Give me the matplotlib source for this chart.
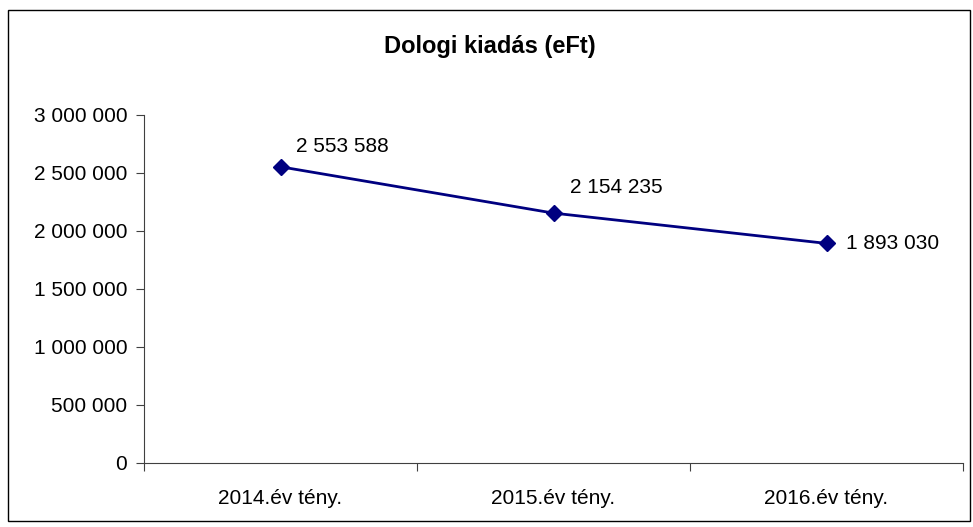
import matplotlib
matplotlib.use("Agg")
import matplotlib.pyplot as plt
from matplotlib.patches import Rectangle
from matplotlib.ticker import FuncFormatter, FixedLocator

categories = ["2014.év tény.", "2015.év tény.", "2016.év tény."]
values = [2553588, 2154235, 1893030]
label_offsets = [(15, 20), (17, 26), (19, 0)]


def hu_fmt(v, pos=None):
    return f"{int(round(v)):,}".replace(",", " ")


def main():
    plt.rcParams["font.family"] = ["Liberation Sans", "DejaVu Sans"]
    fig = plt.figure(figsize=(9.73, 5.27), dpi=100)
    fig.patches.append(Rectangle((8 / 973, 1 - 521 / 527), 962 / 973, 511 / 527,
                                 transform=fig.transFigure, fill=False,
                                 edgecolor="black", linewidth=1))
    ax = fig.add_axes([144 / 973, 1 - 463 / 527, 819 / 973, 348 / 527])

    x = list(range(len(categories)))
    ax.plot(x, values, color="#000080", linewidth=2, marker="D", markersize=8,
            clip_on=False)
    for xi, v, off in zip(x, values, label_offsets):
        ax.annotate(hu_fmt(v), (xi, v), xytext=off, textcoords="offset pixels",
                    ha="left", va="center", fontsize=15)

    ax.set_xlim(-0.5, len(categories) - 0.5)
    ax.set_ylim(0, 3000000)
    ax.set_yticks(range(0, 3000001, 500000))
    ax.yaxis.set_major_formatter(FuncFormatter(hu_fmt))
    ax.xaxis.set_major_locator(FixedLocator([-0.5, 0.5, 1.5, 2.5]))
    ax.xaxis.set_major_formatter(FuncFormatter(lambda v, p: ""))
    ax.xaxis.set_minor_locator(FixedLocator(x))
    ax.set_xticklabels(categories, minor=True)
    ax.tick_params(axis="x", which="minor", length=0, pad=19, labelsize=15)
    ax.tick_params(axis="x", which="major", length=6, color="#404040")
    ax.tick_params(axis="y", length=6, color="#404040", labelsize=15, pad=6)
    for s in ["top", "right"]:
        ax.spines[s].set_visible(False)
    for s in ["left", "bottom"]:
        ax.spines[s].set_color("#404040")

    fig.text(490 / 973, 1 - 46 / 527, "Dologi kiadás (eFt)", ha="center",
             va="center", fontsize=17, fontweight="bold")

    fig.savefig("out.png", dpi=100)


if __name__ == "__main__":
    main()
